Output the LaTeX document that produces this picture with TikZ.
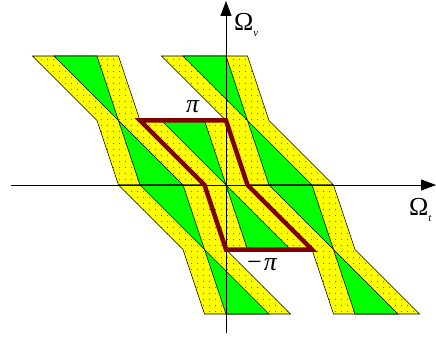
\documentclass[tikz,border=0pt]{standalone}
\usepackage{fontspec}
\setmainfont{Liberation Serif}
\usetikzlibrary{arrows.meta,patterns.meta}
\definecolor{ylw}{RGB}{255,255,0}
\definecolor{grn}{RGB}{0,255,0}
\definecolor{maroon}{RGB}{128,0,0}
\tikzset{
  yband/.style={preaction={fill=ylw},pattern={Dots[distance=6bp,radius=0.5bp]},pattern color=black!80,draw=black,line width=0.6bp,line join=miter},
  gband/.style={fill=grn,draw=black,line width=0.6bp},
  axisline/.style={draw=black,line width=0.8bp,-{Triangle[length=15bp,width=11bp]}},
  redline/.style={draw=maroon,line width=4.5bp,line join=miter},
  lbl/.style={inner sep=0pt,anchor=base west},
  xcell/.pic={
    \path[yband] (-1/3,0) -- (-4/3,1) -- (0,1) -- (1/3,0) -- (4/3,-1) -- (0,-1) -- cycle;
    \path[gband] (0,0) -- (-1,1) -- (-1/3,1) -- cycle;
    \path[gband] (0,0) -- (1/3,-1) -- (1,-1) -- cycle;
  }
}
\begin{document}
\begin{tikzpicture}[x=64.5bp,y=64.5bp]
\useasboundingbox (-226bp,-156bp) rectangle (210bp,185bp);
% spectral cells
\pic at (-5/3,1) {xcell};
\pic at (1/3,1) {xcell};
\pic at (0,0) {xcell};
\pic at (-1/3,-1) {xcell};
\pic at (5/3,-1) {xcell};
% axes
\coordinate (xs) at (-215bp,0);
\coordinate (xe) at (210bp,0);
\coordinate (ys) at (0,-148bp);
\coordinate (ye) at (0,184bp);
\draw[axisline] (xs) -- (xe);
\draw[axisline] (ys) -- (ye);
% reconstruction filter
\draw[redline] (-1/3,0) -- (-4/3,1) -- (0,1) -- (1/3,0) -- (4/3,-1) -- (0,-1) -- cycle;
% labels
\node[lbl] (ov) at (8bp,154bp) {\fontsize{26}{26}\selectfont Ω\raisebox{-6bp}{\fontsize{11}{11}\selectfont\itshape v}};
\node[lbl] (ot) at (183bp,-30bp) {\fontsize{26}{26}\selectfont Ω\raisebox{-6bp}{\fontsize{11}{11}\selectfont\itshape t}};
\node[lbl] (pp) at (-40bp,72bp) {\fontsize{26}{26}\selectfont\itshape π};
\node[lbl] (mp) at (21bp,-85bp) {\fontsize{26}{26}\selectfont −\kern2bp{\itshape π}};
\end{tikzpicture}
\end{document}
